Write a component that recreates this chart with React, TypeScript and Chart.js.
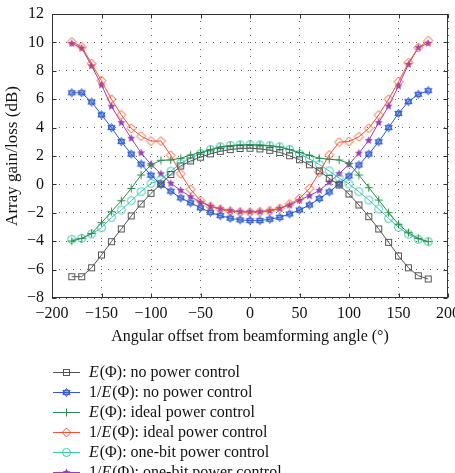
import React, { useEffect, useRef } from "react";
import { Chart, registerables } from "chart.js";

Chart.register(...registerables);

// Angular offsets (degrees) at which the array gain was evaluated
const angles = [
  -180, -170, -160, -150, -140, -130, -120, -110, -100, -90, -80, -70, -60, -50, -40, -30, -20, -10, 0,
  10, 20, 30, 40, 50, 60, 70, 80, 90, 100, 110, 120, 130, 140, 150, 160, 170, 180,
];

// E(Φ) and 1/E(Φ) in dB for the three power-control schemes
const eNoPc = [
  -6.5, -6.5, -5.87, -4.97, -4.03, -3.14, -2.22, -1.38, -0.63, 0.03, 0.7, 1.3, 1.65, 1.92, 2.15, 2.33, 2.45, 2.53, 2.55,
  2.5, 2.4, 2.25, 2.02, 1.74, 1.38, 0.95, 0.43, -0.04, -0.68, -1.45, -2.27, -3.14, -4.08, -5.04, -5.87, -6.43, -6.66,
];
const invENoPc = [
  6.45, 6.45, 5.8, 4.9, 4.0, 3.02, 2.14, 1.43, 0.64, -0.02, -0.48, -0.95, -1.3, -1.65, -1.97, -2.2, -2.38, -2.5, -2.55,
  -2.55, -2.45, -2.32, -2.08, -1.8, -1.45, -1.0, -0.53, 0.02, 0.59, 1.37, 2.14, 3.0, 4.0, 5.0, 5.83, 6.34, 6.6,
];
const eIdeal = [
  -3.99, -3.8, -3.45, -2.7, -1.92, -1.15, -0.28, 0.66, 1.37, 1.7, 1.72, 1.84, 2.07, 2.25, 2.45, 2.63, 2.72, 2.77, 2.78,
  2.77, 2.72, 2.63, 2.45, 2.25, 2.05, 1.84, 1.77, 1.72, 1.49, 0.66, -0.23, -1.1, -1.99, -2.81, -3.4, -3.8, -4.03,
];
const invEIdeal = [
  10.04, 9.7, 8.5, 7.3, 6.0, 4.9, 3.95, 3.4, 3.05, 3.05, 2.05, 0.75, -0.35, -1.15, -1.55, -1.75, -1.88, -1.94, -1.95,
  -1.93, -1.86, -1.68, -1.38, -1.0, -0.3, 0.85, 2.07, 2.98, 3.02, 3.36, 3.95, 4.89, 6.0, 7.23, 8.57, 9.63, 10.12,
];
const eOneBit = [
  -3.87, -3.8, -3.49, -3.05, -2.32, -1.8, -1.15, -0.51, 0.07, 0.33, 0.93, 1.49, 1.85, 2.17, 2.45, 2.65, 2.74, 2.79, 2.8,
  2.78, 2.73, 2.65, 2.47, 2.14, 1.8, 1.4, 0.95, 0.45, 0.03, -0.51, -1.1, -1.73, -2.39, -3.02, -3.51, -3.87, -4.03,
];
const invEOneBit = [
  9.93, 9.6, 8.35, 7.0, 5.5, 4.35, 3.25, 2.22, 1.41, 0.75, 0.08, -0.42, -0.87, -1.25, -1.54, -1.72, -1.85, -1.92, -1.93,
  -1.92, -1.86, -1.7, -1.45, -1.12, -0.8, -0.42, 0.15, 0.75, 1.41, 2.2, 3.1, 4.35, 5.52, 6.93, 8.46, 9.63, 9.94,
];

const seriesLabels = [
  "E(Φ): no power control",
  "1/E(Φ): no power control",
  "E(Φ): ideal power control",
  "1/E(Φ): ideal power control",
  "E(Φ): one-bit power control",
  "1/E(Φ): one-bit power control",
];
const seriesValues = [eNoPc, invENoPc, eIdeal, invEIdeal, eOneBit, invEOneBit];
const seriesColors = ["#555555", "#2d5ccc", "#2e8c48", "#f2522f", "#3cc6b2", "#9940b4"];
const seriesMarkers = ["square", "hexagram", "plus", "diamond", "circle", "star"];

const xTitle = "Angular offset from beamforming angle (°)";
const yTitle = "Array gain/loss (dB)";

const FONT = "'Liberation Serif', 'Times New Roman', serif";

function makeMarker(kind: string, color: string): HTMLCanvasElement {
  const s = 13;
  const c = document.createElement("canvas");
  c.width = s;
  c.height = s;
  const g = c.getContext("2d")!;
  g.translate(s / 2, s / 2);
  g.strokeStyle = color;
  g.fillStyle = color;
  g.lineWidth = 1;
  const poly = (pts: number[][], fill: boolean) => {
    g.beginPath();
    pts.forEach(([x, y], i) => (i ? g.lineTo(x, y) : g.moveTo(x, y)));
    g.closePath();
    if (fill) g.fill();
    else g.stroke();
  };
  if (kind === "square") {
    g.strokeRect(-3, -3, 6, 6);
  } else if (kind === "plus") {
    g.beginPath();
    g.moveTo(-4, 0);
    g.lineTo(4, 0);
    g.moveTo(0, -4);
    g.lineTo(0, 4);
    g.stroke();
  } else if (kind === "diamond") {
    poly([[0, -4.5], [4.5, 0], [0, 4.5], [-4.5, 0]], false);
  } else if (kind === "circle") {
    g.beginPath();
    g.arc(0, 0, 4, 0, Math.PI * 2);
    g.stroke();
  } else if (kind === "hexagram") {
    const r = 4.2;
    const tri = (off: number) =>
      [0, 1, 2].map((k) => {
        const a = off + (k * 2 * Math.PI) / 3;
        return [r * Math.sin(a), -r * Math.cos(a)];
      });
    g.lineWidth = 1;
    poly(tri(0), false);
    poly(tri(Math.PI), false);
    g.globalAlpha = 0.6;
    g.beginPath();
    g.arc(0, 0, 1.6, 0, Math.PI * 2);
    g.fill();
  } else if (kind === "star") {
    const pts: number[][] = [];
    for (let k = 0; k < 10; k++) {
      const rr = k % 2 ? 2 : 4.2;
      const a = (k * Math.PI) / 5;
      pts.push([rr * Math.sin(a), -rr * Math.cos(a)]);
    }
    poly(pts, true);
  }
  return c;
}

const minusify = (v: number | string) => String(v).replace("-", "\u2212");

export default function App() {
  const ref = useRef<HTMLCanvasElement>(null);

  useEffect(() => {
    if (!ref.current) return;
    const markers = seriesColors.map((col, i) => makeMarker(seriesMarkers[i], col));

    const frameAndLegend = {
      id: "frameAndLegend",
      afterDraw(chart: any) {
        const { ctx, chartArea } = chart;
        const xs = chart.scales.x;
        const ys = chart.scales.y;
        const l = Math.round(chartArea.left) + 0.5;
        const r = Math.round(chartArea.right) - 0.5;
        const t = Math.round(chartArea.top) + 0.5;
        const b = Math.round(chartArea.bottom) - 0.5;
        ctx.save();
        ctx.strokeStyle = "#333";
        ctx.lineWidth = 1;
        ctx.strokeRect(l, t, r - l, b - t);
        // inward tick marks on all four sides
        const tl = 4;
        ctx.beginPath();
        xs.ticks.forEach((tk: any) => {
          const px = Math.round(xs.getPixelForValue(tk.value)) + 0.5;
          ctx.moveTo(px, b);
          ctx.lineTo(px, b - tl);
          ctx.moveTo(px, t);
          ctx.lineTo(px, t + tl);
        });
        ys.ticks.forEach((tk: any) => {
          const py = Math.round(ys.getPixelForValue(tk.value)) + 0.5;
          ctx.moveTo(l, py);
          ctx.lineTo(l + tl, py);
          ctx.moveTo(r, py);
          ctx.lineTo(r - tl, py);
        });
        ctx.stroke();

        // legend, one entry per row below the plot
        const roman = `16px ${FONT}`;
        const italic = `italic 16px ${FONT}`;
        ctx.textBaseline = "middle";
        ctx.textAlign = "left";
        chart.data.datasets.forEach((ds: any, i: number) => {
          const y = Math.round(371.5 + i * 20.1) + 0.5;
          ctx.strokeStyle = ds.borderColor;
          ctx.lineWidth = 1;
          ctx.beginPath();
          ctx.moveTo(53, y);
          ctx.lineTo(80, y);
          ctx.stroke();
          const m = markers[i];
          ctx.drawImage(m, 66.5 - m.width / 2, y - m.height / 2);
          const label: string = ds.label;
          const k = label.indexOf("E(");
          const parts = [
            { s: label.slice(0, k), f: roman },
            { s: "E", f: italic },
            { s: label.slice(k + 1), f: roman },
          ];
          let x = 89;
          ctx.fillStyle = "#111";
          parts.forEach((p) => {
            ctx.font = p.f;
            ctx.fillText(p.s, x, y);
            x += ctx.measureText(p.s).width + (p.f === italic ? 1 : 0);
          });
        });
        ctx.restore();
      },
    };

    const tickFont = { family: FONT, size: 16 };
    const chart = new Chart(ref.current, {
      type: "line",
      data: {
        datasets: seriesValues.map((vals, i) => ({
          label: seriesLabels[i],
          data: angles.map((a, j) => ({ x: a, y: vals[j] })),
          borderColor: seriesColors[i],
          backgroundColor: seriesColors[i],
          borderWidth: 1,
          pointStyle: markers[i],
          pointRadius: 3,
          fill: false,
          tension: 0,
        })),
      },
      options: {
        responsive: false,
        animation: false,
        devicePixelRatio: 1,
        events: [],
        layout: { padding: { left: 0, right: 7, top: 14, bottom: 125 } },
        plugins: { legend: { display: false }, tooltip: { enabled: false } },
        scales: {
          x: {
            type: "linear",
            min: -200,
            max: 200,
            ticks: {
              stepSize: 50,
              font: tickFont,
              color: "#111",
              padding: 6,
              maxRotation: 0,
              autoSkip: false,
              callback: (v: any) => minusify(v),
            },
            grid: { color: "rgba(0,0,0,0.6)", lineWidth: 1, drawTicks: false },
            border: { display: false, dash: [1, 6] },
            title: {
              display: true,
              text: xTitle,
              font: { family: FONT, size: 16 },
              color: "#111",
              padding: { top: 2, bottom: 2 },
            },
            afterFit: (s: any) => {
              s.height = 50;
              s.paddingLeft = 0;
              s.paddingRight = 0;
            },
          },
          y: {
            type: "linear",
            min: -8,
            max: 12,
            ticks: {
              stepSize: 2,
              font: tickFont,
              color: "#111",
              padding: 8,
              callback: (v: any) => minusify(v),
            },
            grid: { color: "rgba(0,0,0,0.6)", lineWidth: 1, drawTicks: false },
            border: { display: false, dash: [1, 6] },
            title: {
              display: true,
              text: yTitle,
              font: { family: FONT, size: 17 },
              color: "#111",
              padding: { top: 2, bottom: 0 },
            },
            afterFit: (s: any) => {
              s.width = 52;
              s.paddingTop = 0;
              s.paddingBottom = 0;
            },
          },
        },
      },
      plugins: [frameAndLegend],
    } as any);

    return () => chart.destroy();
  }, []);

  return (
    <div style={{ position: "absolute", left: 0, top: 0, width: 455, height: 473, background: "#fff" }}>
      <canvas ref={ref} width={455} height={473} style={{ display: "block" }} />
    </div>
  );
}
